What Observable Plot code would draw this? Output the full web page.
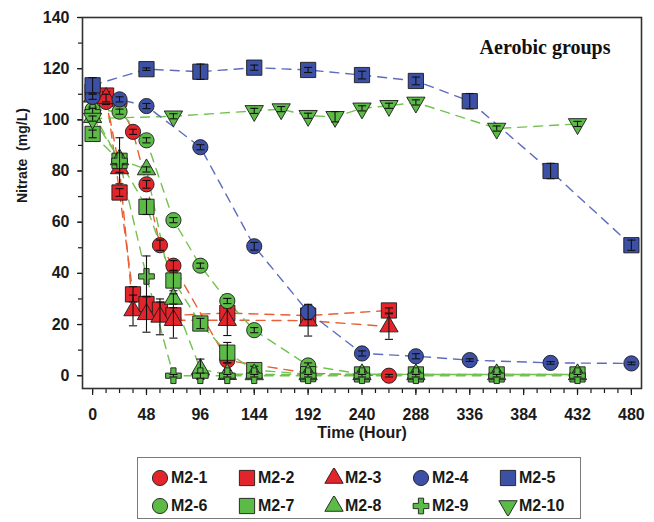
<!DOCTYPE html>
<html><head><meta charset="utf-8">
<script src="https://cdn.jsdelivr.net/npm/d3@7"></script>
<script src="https://cdn.jsdelivr.net/npm/@observablehq/plot@0.6"></script>
<style>
body{margin:0;background:#fff;font-family:"Liberation Sans",Arial,sans-serif;}
#chart{position:absolute;left:0;top:0;}
#legend{position:absolute;left:137px;top:457px;width:444px;height:62px;border:1px solid #7a7a7a;box-sizing:border-box;display:grid;grid-template-columns:repeat(5,87px);grid-auto-rows:28px;padding:6px 0 0 12px;}
.item{display:flex;align-items:center;font-weight:bold;font-size:16px;color:#1a1a1a;}
.item svg{margin-right:1px;}
</style></head><body><div id="chart"></div><div id="legend"></div>
<script>
// ---- data (time in hours, nitrate in mg/L, error = sd) ----
const names = ["M2-1","M2-2","M2-3","M2-4","M2-5","M2-6","M2-7","M2-8","M2-9","M2-10"];

const t1 = [0,12,24,36,48,60,72,120,192,264];
const v1 = [110,107,106.5,95.3,74.8,51,43,6,1,0];
const e1 = [1,1,1,1,1.5,2,2,1,0.5,0.5];

const t2 = [0,12,24,36,48,60,72,120,192,264];
const v2 = [111,109.5,71.6,31.8,28,25.8,23.6,24.5,23.5,25.5];
const e2 = [1,1.5,1.5,3,3,3,3,2,2,1];

const t3 = [0,12,24,36,48,60,72,120,192,264];
const v3 = [109,108.5,81,25.5,24,23,21.7,21.7,21.5,19.2];
const e3 = [1,1.5,1.5,6,7,7,7,6,6,5];

const t4 = [0,24,48,96,144,192,240,288,336,408,480];
const v4 = [109,108,105.4,89.3,50.6,24.9,8.7,7.6,6.1,5,4.8];
const e4 = [1,1,1,1,1.5,3,1,1,0.5,0.5,0.5];

const t5 = [0,48,96,144,192,240,288,336,408,480];
const v5 = [113.5,119.8,118.8,120.4,119.5,117.5,115.2,107.3,80,51];
const e5 = [3,0.5,3,1,1,1.5,1.5,3,3,2];

const t6 = [0,24,48,72,96,120,144,192,240,288,360,432];
const v6 = [104,103.2,92,60.8,43,29.2,17.8,4,0.6,0.5,0.5,0.5];
const e6 = [1,1,1,1,1,1,1,1,0.5,0.5,0.5,0.5];

const t7 = [0,24,48,72,96,120,144,192,240,288,360,432];
const v7 = [94.5,84,66,37.2,20.4,9,2.2,0.6,0.5,0.5,0.5,0.5];
const e7 = [1.5,1,3,4,2,4,1.5,1.5,1.5,1.5,1.5,1.5];

const t8 = [0,24,48,72,96,120,144,192,240,288,360,432];
const v8 = [101,84.5,80.6,30,2.5,0.6,0.5,0.5,0.5,0.5,0.5,0.5];
const e8 = [1,2,1,2,4,1.5,1,1,1,1,1,1];

const t9 = [0,24,48,72,96,120,144,192,240,288,360,432];
const v9 = [103,84,38.8,0,0,0,0,0,0,0,0,0];
const e9 = [1.5,9,8,0.5,1,0.5,0.5,0.5,0.5,0.5,0.5,0.5];

const t10 = [0,72,144,168,192,216,240,264,288,360,432];
const v10 = [100.5,101.4,103.5,104.2,101.6,101.2,104.5,105.5,106.8,96.6,98.4];
const e10 = [1,1,1,1,1,2,1,1,1,1,1];

const xTicks = [0,48,96,144,192,240,288,336,384,432,480];
const yTicks = [0,20,40,60,80,100,120,140];

// ---- styles ----
const RED = "#e3242b", BLUE = "#3c50a6", GREEN = "#5cba47";
const triangleDown = {
  draw(ctx, size) {
    const y = Math.sqrt(size / (Math.sqrt(3) * 3));
    ctx.moveTo(0, y * 2);
    ctx.lineTo(-Math.sqrt(3) * y, -y);
    ctx.lineTo(Math.sqrt(3) * y, -y);
    ctx.closePath();
  }
};
const hline = {draw(ctx, size){ const w = Math.sqrt(size); ctx.moveTo(-w,0); ctx.lineTo(w,0); }};

const allT = [t1,t2,t3,t4,t5,t6,t7,t8,t9,t10];
const allV = [v1,v2,v3,v4,v5,v6,v7,v8,v9,v10];
const allE = [e1,e2,e3,e4,e5,e6,e7,e8,e9,e10];
const fills = [RED,RED,RED,BLUE,BLUE,GREEN,GREEN,GREEN,GREEN,GREEN];
const lineCols = ["#e95e35","#e95e35","#e95e35","#5d6cbf","#5d6cbf","#72c24f","#72c24f","#72c24f","#72c24f","#72c24f"];
const syms = [d3.symbolCircle,d3.symbolSquare,d3.symbolTriangle,d3.symbolCircle,d3.symbolSquare,d3.symbolCircle,d3.symbolSquare,d3.symbolTriangle,d3.symbolCross,triangleDown];
const radii = [7.6,8.6,6.8,7.6,8.6,7.6,8.6,6.8,6.6,6.8];

const rowsOf = i => allT[i].map((t,j) => ({t, v: allV[i][j], e: allE[i][j]}));
const order = [0,1,2,5,6,7,8,9,3,4];

const marks = [];
for (const i of order) {
  marks.push(Plot.line(rowsOf(i), {x:"t", y:"v", stroke: lineCols[i], strokeWidth: 1.4, strokeDasharray: "9,7"}));
}
for (const i of order) {
  const rows = rowsOf(i);
  marks.push(Plot.dot(rows, {x:"t", y:"v", symbol: syms[i], r: radii[i], fill: fills[i], stroke: "#1c1c1c", strokeWidth: 0.9}));
  marks.push(Plot.ruleX(rows, {x:"t", y1: d => d.v - d.e, y2: d => d.v + d.e, stroke: "#111", strokeWidth: 1.1}));
  marks.push(Plot.dot(rows, {x:"t", y: d => d.v + d.e, symbol: hline, r: 2.3, stroke: "#111", strokeWidth: 1.1}));
  marks.push(Plot.dot(rows, {x:"t", y: d => d.v - d.e, symbol: hline, r: 2.3, stroke: "#111", strokeWidth: 1.1}));
}

const chart = Plot.plot({
  width: 654, height: 445,
  marginLeft: 82, marginRight: 13, marginTop: 17, marginBottom: 57,
  style: "font-family: 'Liberation Sans', Arial, sans-serif; font-weight: bold; color: #1a1a1a; background: #fff;",
  x: {domain: [-9, 489]},
  y: {domain: [-5, 140]},
  marks: [
    Plot.axisX({ticks: d3.range(0, 481, 12), tickSize: 5, tickFormat: () => "", label: null, strokeWidth: 1.2}),
    Plot.axisX({ticks: xTicks, tickSize: 7, tickPadding: 13, fontSize: 16, label: null, strokeWidth: 1.2}),
    Plot.axisY({ticks: d3.range(0, 141, 10), tickSize: 4, tickFormat: () => "", label: null, strokeWidth: 1.2}),
    Plot.axisY({ticks: yTicks, tickSize: 5, tickPadding: 8, fontSize: 16, label: null, strokeWidth: 1.2}),
    ...marks,
    Plot.frame({stroke: "#333", strokeWidth: 1.6}),
    Plot.text(["Aerobic groups"], {frameAnchor: "top-right", dx: -31, dy: 30, lineAnchor: "middle", textAnchor: "end", fontSize: 20, fontWeight: "bold", fontFamily: "'Liberation Serif', 'Times New Roman', serif", fill: "#111"}),
    Plot.text(["Nitrate\u00a0 (mg/L)"], {frameAnchor: "left", dx: -60, rotate: -90, fontSize: 14, fontWeight: "bold", fill: "#1a1a1a"}),
    Plot.text(["Time (Hour)"], {frameAnchor: "bottom", dy: 49, fontSize: 16, fontWeight: "bold", fill: "#1a1a1a"})
  ]
});
document.getElementById("chart").appendChild(chart);

// ---- legend ----
const legend = document.getElementById("legend");
names.forEach((n, i) => {
  const item = document.createElement("div");
  item.className = "item";
  const size = Math.PI * radii[i] * radii[i];
  const path = d3.symbol().type(syms[i]).size(size)();
  item.innerHTML = `<svg width="20" height="20" viewBox="-10 -10 20 20"><path d="${path}" fill="${fills[i]}" stroke="#1c1c1c" stroke-width="0.9"/></svg><span>${n}</span>`;
  legend.appendChild(item);
});
</script></body></html>
